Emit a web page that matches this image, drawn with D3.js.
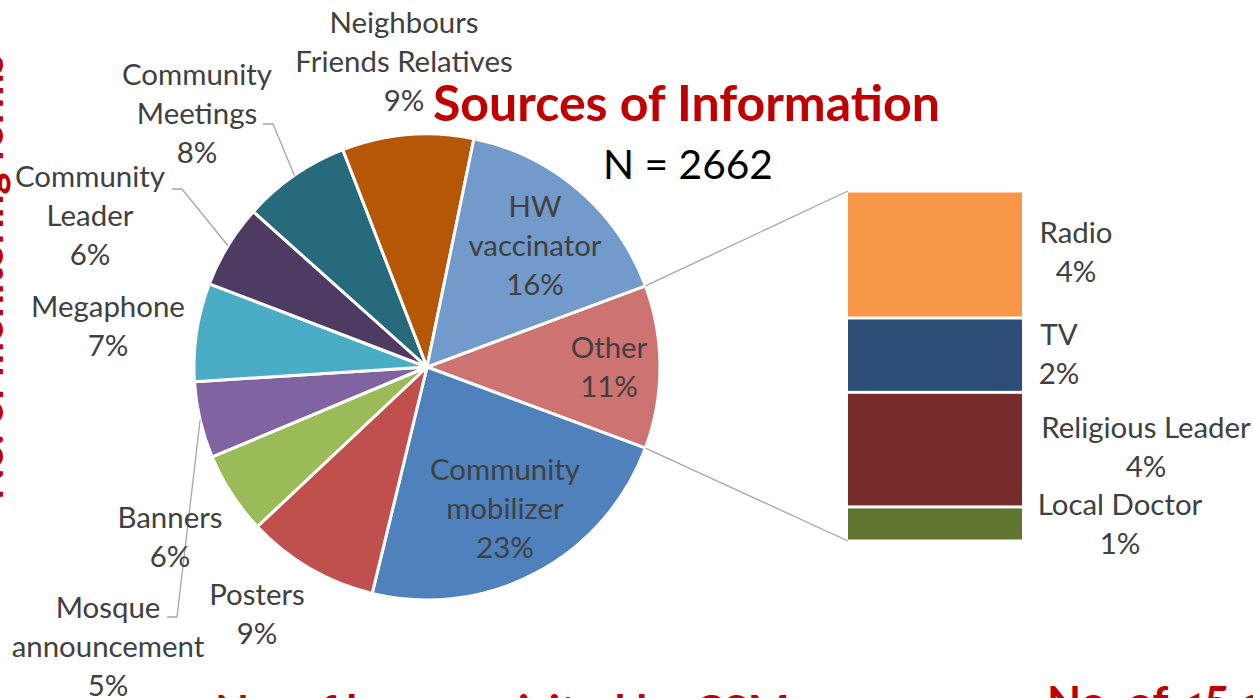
<!DOCTYPE html>
<html>
<head>
<meta charset="utf-8">
<script src="https://cdn.jsdelivr.net/npm/d3@7"></script>
<style>
  body { margin:0; background:#fff; }
  svg text { font-family: Lato, "Open Sans", sans-serif; }
</style>
</head>
<body>
<svg id="chart" width="1253" height="698"></svg>
<script>
// pie slices, clockwise starting with the "Other" slice (pulled into the bar)
const categories = ["Other", "Community\nmobilizer", "Posters", "Banners", "Mosque\nannouncement",
  "Megaphone", "Community\nLeader", "Community\nMeetings", "Neighbours\nFriends Relatives", "HW\nvaccinator"];
const shares = [11.3, 23.1, 9.2, 5.7, 5.3, 6.8, 5.8, 7.5, 9.1, 16.1];
const shareLabels = ["11%", "23%", "9%", "6%", "5%", "7%", "6%", "8%", "9%", "16%"];

// breakdown of "Other"
const otherCategories = ["Radio", "TV", "Religious Leader", "Local Doctor"];
const otherShares = [4.1, 2.4, 3.7, 1.1];
const otherLabels = ["4%", "2%", "4%", "1%"];

const title = "Sources of Information";
const subtitle = "N = 2662";

// ---- layout / style ----
const W = 1253, H = 698;
const cx = 427, cy = 367, R = 233;
const pieColors = ["#CD7371", "#4F81BD", "#C0504D", "#9BBB59", "#8064A2",
  "#4BACC6", "#4D3B62", "#276A7C", "#B65708", "#729ACA"];
const barColors = ["#F79646", "#2C4D75", "#772C2A", "#5F7530"];
const labelColor = "#404040";
const red = "#C00000";
const lineH = 39;
// label anchor: centre x, first baseline
const pieLabelPos = [[609, 358], [505, 480], [257, 605], [170, 528], [108, 618],
  [108, 317], [90, 187], [197, 85], [404, 33], [535, 217]];
const barLabelPos = [[1076, 243], [1059, 345], [1146, 438], [1120, 515]];
// leader line elbows for labels sitting off the slice
const leaders = { 4: [[177, 617], [167, 617]], 6: [[182, 189], [172, 189]], 7: [[273, 124], [263, 124]] };

const svg = d3.select("#chart");

function fit(sel, width) {
  const fs = parseFloat(sel.attr("font-size"));
  const len = sel.node().getComputedTextLength();
  sel.attr("font-size", fs * width / len);
  return sel;
}

// label font size: match "Community" to ~150px
const probe = svg.append("text").attr("font-size", 28).text("Community");
fit(probe, 150);
const labelSize = parseFloat(probe.attr("font-size"));
probe.remove();

// ---- pie ----
const total = d3.sum(shares);
const otherSpan = shares[0] / total * 2 * Math.PI;
const pie = d3.pie().sort(null).value(d => d)
  .startAngle(Math.PI / 2 - otherSpan / 2)
  .endAngle(Math.PI / 2 - otherSpan / 2 + 2 * Math.PI);
const arcs = pie(shares);
const arc = d3.arc().innerRadius(0).outerRadius(R);
const edge = d3.arc().innerRadius(R).outerRadius(R);

const g = svg.append("g").attr("transform", `translate(${cx},${cy})`);
g.selectAll("path.slice")
  .data(arcs)
  .enter()
  .append("path")
  .attr("class", "slice")
  .attr("d", arc)
  .attr("fill", (d, i) => pieColors[i])
  .attr("stroke", "#fff")
  .attr("stroke-width", 3)
  .attr("stroke-linejoin", "round");

// leader lines
Object.keys(leaders).forEach(k => {
  const c = edge.centroid(arcs[k]);
  const pts = [[cx + c[0], cy + c[1]]].concat(leaders[k]);
  svg.append("path")
    .attr("d", d3.line()(pts))
    .attr("fill", "none")
    .attr("stroke", "#A6A6A6")
    .attr("stroke-width", 1.3);
});

// ---- bar of "Other" ----
const barX = 848, barW = 174;
const y = d3.scaleLinear().domain([0, d3.sum(otherShares)]).range([191, 541]);
const stacked = otherShares.map((v, i) => ({ v: v, y0: d3.sum(otherShares.slice(0, i)) }));

// connector lines from the Other slice edges
const a0 = arcs[0].startAngle, a1 = arcs[0].endAngle;
[[a0, 0], [a1, d3.sum(otherShares)]].forEach(([a, v]) => {
  svg.append("line")
    .attr("x1", cx + R * Math.sin(a)).attr("y1", cy - R * Math.cos(a))
    .attr("x2", barX).attr("y2", y(v))
    .attr("stroke", "#A6A6A6").attr("stroke-width", 1.3);
});

svg.selectAll("rect.bar")
  .data(stacked)
  .enter()
  .append("rect")
  .attr("class", "bar")
  .attr("x", barX)
  .attr("y", d => y(d.y0) + 1.5)
  .attr("width", barW)
  .attr("height", d => y(d.y0 + d.v) - y(d.y0) - 3)
  .attr("fill", (d, i) => barColors[i]);

// ---- labels ----
function multiLabel(pos, lines) {
  const t = svg.append("text")
    .attr("text-anchor", "middle")
    .attr("font-size", labelSize)
    .attr("fill", labelColor);
  lines.forEach((l, j) => {
    t.append("tspan").attr("x", pos[0]).attr("y", pos[1] + j * lineH).text(l);
  });
}
categories.forEach((c, i) => multiLabel(pieLabelPos[i], c.split("\n").concat([shareLabels[i]])));
otherCategories.forEach((c, i) => multiLabel(barLabelPos[i], [c, otherLabels[i]]));

// ---- titles and clipped neighbour headings ----
fit(svg.append("text")
  .attr("x", 433).attr("y", 121)
  .attr("font-size", 46).attr("font-weight", "bold").attr("fill", red)
  .text(title), 507);

fit(svg.append("text")
  .attr("x", 603).attr("y", 179)
  .attr("font-size", 38).attr("fill", "#000")
  .text(subtitle), 170);

const bottomSize = parseFloat(fit(svg.append("text")
  .attr("x", 215).attr("y", 727)
  .attr("font-size", 44).attr("font-weight", "bold").attr("fill", red)
  .text("No. of houses visited by CSM"), 575).attr("font-size"));

svg.append("text")
  .attr("x", 1047).attr("y", 718)
  .attr("font-size", bottomSize).attr("font-weight", "bold").attr("fill", red)
  .text("No. of <5 children");

fit(svg.append("text")
  .attr("transform", "translate(2.5,55) rotate(-90)")
  .attr("text-anchor", "end")
  .attr("font-size", bottomSize).attr("font-weight", "bold").attr("fill", red)
  .text("No. of monitoring forms"), 445);
</script>
</body>
</html>
